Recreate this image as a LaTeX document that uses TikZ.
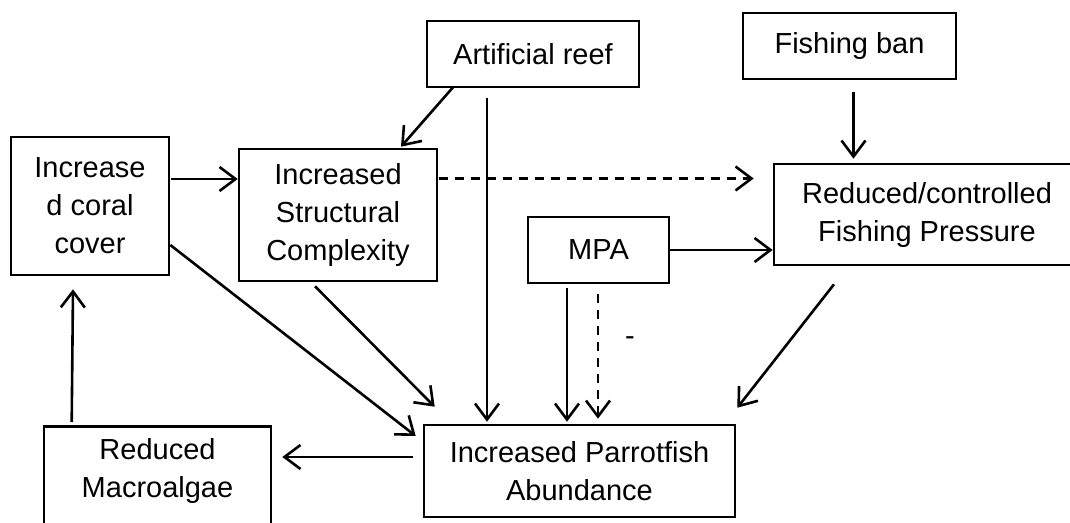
\documentclass[tikz,border=0pt]{standalone}
\usepackage{fontspec}
\setmainfont{Liberation Sans}
\usetikzlibrary{arrows.meta,calc}
\begin{document}
\begin{tikzpicture}[x=1pt,y=1pt,
  txt/.style={align=center, inner sep=0pt, font=\fontsize{29}{38}\selectfont},
  box/.style={txt, draw, line width=2.6pt},
  arr/.style={line width=2.6pt, -{Straight Barb[length=16pt,width=24pt]}},
  dsh/.style={dash pattern=on 9pt off 7pt}]
\useasboundingbox (0,0) rectangle (1070,-522);
\fill[white] (0,0) rectangle (1070,-522);
% nodes
\node[box, minimum width=158, minimum height=138] (coral) at (90,-206) {Increase\\d coral\\cover};
\node[box, minimum width=198, minimum height=132] (struct) at (338,-215) {Increased\\Structural\\Complexity};
\node[box, minimum width=212, minimum height=66] (art) at (533,-54) {Artificial reef};
\node[box, minimum width=213, minimum height=66] (ban) at (849.5,-46) {Fishing ban};
\node[box, minimum width=306, minimum height=101] (red) at (927,-214.5) {Reduced/controlled\\Fishing Pressure};
\node[box, minimum width=141, minimum height=66] (mpa) at (598.5,-250) {MPA};
\node[box, minimum width=311, minimum height=92] (par) at (579.5,-471) {Increased Parrotfish\\Abundance};
\node[box, minimum width=227, minimum height=120, anchor=north] (mac) at (157.5,-425) {};
\node[txt] (mactxt) at (157.5,-471) {Reduced\\Macroalgae};
\node[txt] (minus) at (630,-341) {-};
% connectors
\draw[arr] ($(coral.east)+(1,27)$) -- ($(struct.west)+(0,36)$);
\draw[arr] ($(art.south)+(-80,1)$) -- ($(struct.north)+(63,1)$);
\draw[arr,dsh] ($(struct.east)+(1,36.5)$) -- ($(red.west)+(-19,36)$);
\draw[arr] ($(ban.south)+(4,-12)$) -- ($(red.north)+(-73.5,4)$);
\draw[arr] (mpa.east) -- (red.west |- mpa.east);
\draw[arr] ($(coral.east)+(0,-39)$) -- ($(par.west)+(-7,35)$);
\draw[arr] ($(struct.south)+(-23,-4)$) -- ($(par.north west)+(12,17)$);
\draw[arr] ($(art.south)+(-46,-10)$) -- ($(par.north)+(-92.5,2)$);
\draw[arr] ($(mpa.south)+(-31.5,-4)$) -- ($(par.north)+(-12.5,2)$);
\draw[arr,dsh] ($(mpa.south)+(-0.5,-10)$) -- ($(par.north)+(18.5,5)$);
\draw[arr] ($(red.south)+(-93,-18)$) -- ($(par.north east)+(1,16)$);
\draw[arr] ($(par.west)+(-10,14)$) -- ($(mac.east |- par.west)+(10,14)$);
\draw[arr] ($(mac.north west)+(29,3)$) -- ($(coral.south)+(-17,-13)$);
\end{tikzpicture}
\end{document}
